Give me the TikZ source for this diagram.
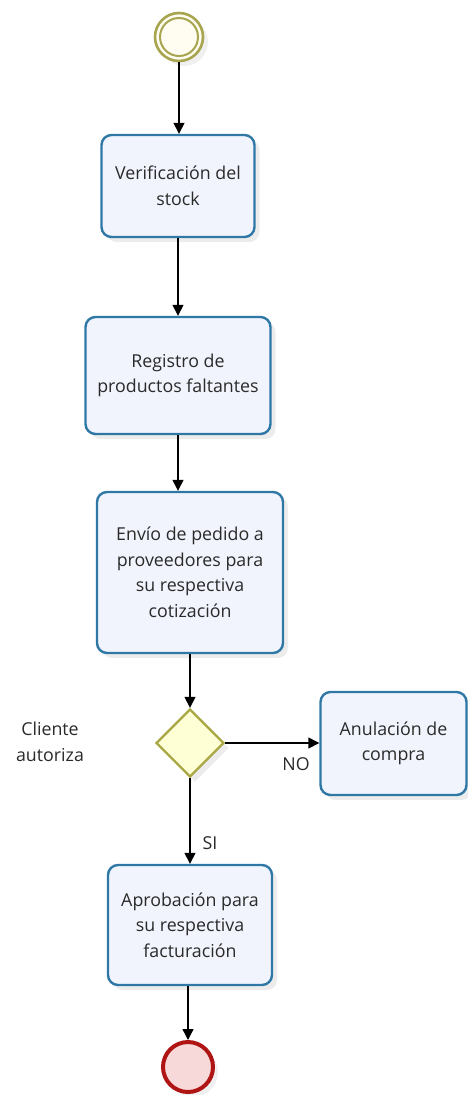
\documentclass[tikz,border=0pt]{standalone}
\usepackage{fontspec}
\setmainfont{Open Sans}
\usetikzlibrary{shapes.geometric,arrows.meta,shadows}
\definecolor{taskborder}{HTML}{2F78A6}
\definecolor{taskfill}{HTML}{F1F4FC}
\definecolor{gwborder}{HTML}{A9A743}
\definecolor{gwfill}{HTML}{FFFFD6}
\definecolor{startborder}{HTML}{A8A550}
\definecolor{startfill}{HTML}{FFFDF2}
\definecolor{endborder}{HTML}{B01515}
\definecolor{endfill}{HTML}{F8D9D9}
\definecolor{txt}{HTML}{2A2A2A}
\tikzset{
  task/.style={draw=taskborder, line width=2.4pt, fill=taskfill, rounded corners=10pt,
    align=center, font=\fontsize{17.8}{25.5}\selectfont, text=txt, inner sep=0pt,
    drop shadow={opacity=0.15, shadow xshift=5pt, shadow yshift=-5pt}},
  gateway/.style={draw=gwborder, line width=2.4pt, fill=gwfill, diamond, inner sep=0pt,
    minimum width=68pt, minimum height=68pt,
    drop shadow={opacity=0.15, shadow xshift=5pt, shadow yshift=-5pt}},
  flow/.style={-{Triangle[length=11pt,width=11pt]}, line width=1.4pt, black},
  lbl/.style={font=\fontsize{17.8}{25.5}\selectfont, text=txt, align=center},
}
\begin{document}
\begin{tikzpicture}[x=1pt,y=-1pt]
\useasboundingbox (0,0) rectangle (467,1095);
% start event
\node[circle, draw=startborder, line width=2.6pt, fill=startfill, minimum size=48pt, inner sep=0pt,
  drop shadow={opacity=0.12, shadow xshift=5pt, shadow yshift=-5pt}] (start) at (179,37) {};
\draw[startborder, line width=2pt] (start.center) circle[radius=19pt];
% tasks
\node[task, minimum width=153pt, minimum height=102pt] (t1) at (178,186) {Verificación del\\stock};
\node[task, minimum width=185pt, minimum height=117pt] (t2) at (178,375.5) {Registro de\\productos faltantes};
\node[task, minimum width=186pt, minimum height=161pt] (t3) at (190,572.5) {Envío de pedido a\\proveedores para\\su respectiva\\cotización};
\node[gateway] (gw) at (190,743) {};
\node[task, minimum width=146pt, minimum height=103pt] (t4) at (393.5,743.5) {Anulación de\\compra};
\node[task, minimum width=164pt, minimum height=120pt] (t5) at (190,925) {Aprobación para\\su respectiva\\facturación};
% end event
\node[circle, draw=endborder, line width=4pt, fill=endfill, minimum size=50pt, inner sep=0pt,
  drop shadow={opacity=0.12, shadow xshift=5pt, shadow yshift=-5pt}] (end) at (188,1067) {};
% labels
\node[lbl] (cl) at (50,742) {Cliente\\autoriza};
\node[lbl, anchor=center] (no) at (296,764) {NO};
\node[lbl, anchor=center] (si) at (210,843) {SI};
% flows
\draw[flow] (start.south) -- (start.south |- t1.north);
\draw[flow] (t1.south) -- (t1.south |- t2.north);
\draw[flow] (t2.south) -- (t2.south |- t3.north);
\draw[flow] (t3.south) -- (gw.north);
\draw[flow] (gw.east) -- (t4.west |- gw.east);
\draw[flow] (gw.south) -- (t5.north);
\draw[flow] (end.north |- t5.south) -- (end.north);
\end{tikzpicture}
\end{document}
